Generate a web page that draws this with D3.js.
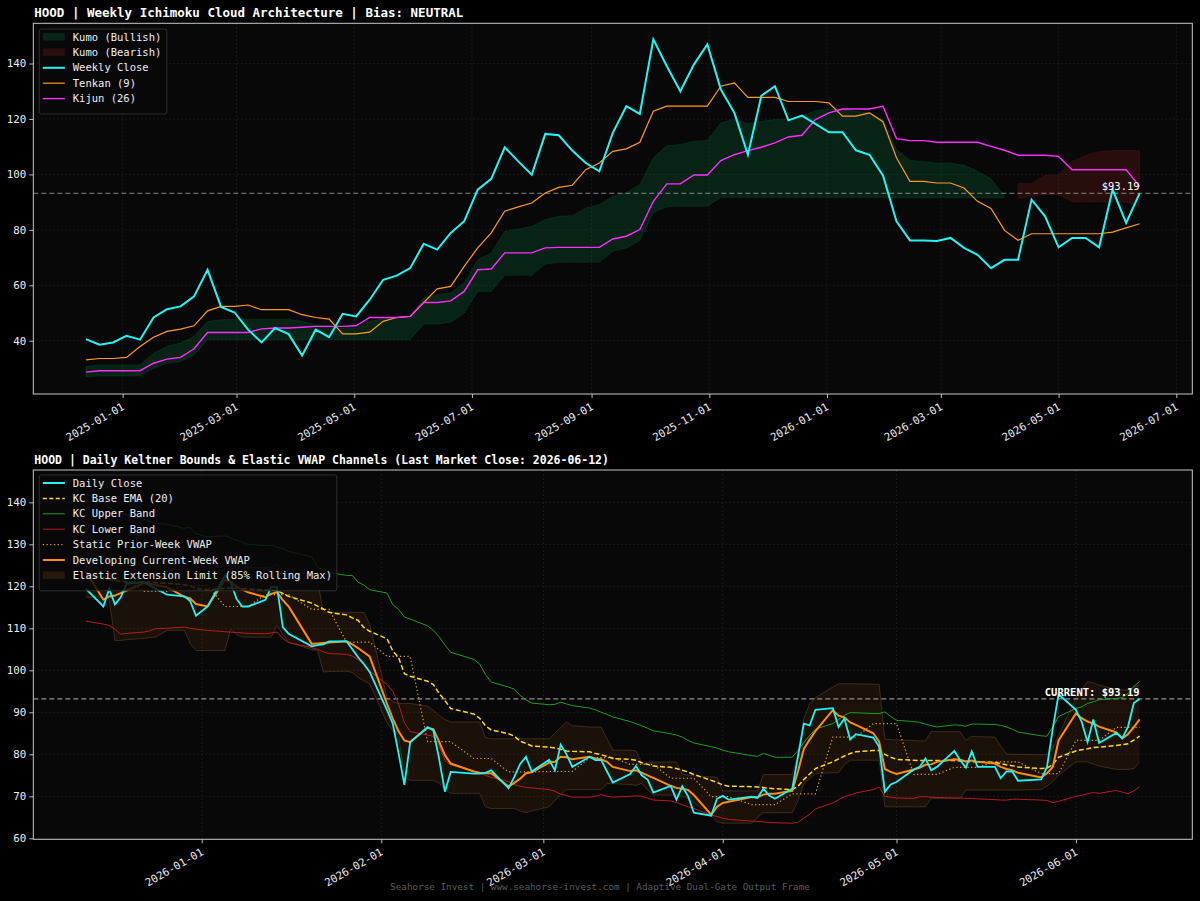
<!DOCTYPE html>
<html><head><meta charset="utf-8">
<script src="https://cdn.jsdelivr.net/npm/d3@7"></script>
<style>
html,body{margin:0;padding:0;background:#000;}
svg{display:block;}
text{font-family:"DejaVu Sans Mono",monospace;}
</style></head><body>
<svg id="chart" width="1200" height="901"></svg>
<script>
// ---------------- WEEKLY (Ichimoku) DATA ----------------
const weekStart = "2024-12-13";
const weeklyClose = [40.6,38.6,39.4,41.8,40.4,48.4,51.4,52.4,56.0,65.6,
52.2,50.2,44.0,39.4,44.6,42.4,34.7,44.0,41.3,49.7,
48.8,54.8,62.0,63.5,66.2,75.0,72.9,78.9,83.1,94.5,
98.4,109.8,104.7,99.9,114.6,114.1,108.6,104.1,101.1,115.0,
124.6,121.8,148.7,139.0,130.0,139.6,146.9,130.6,122.2,107.1,
128.4,131.8,119.5,121.2,118.2,115.2,115.2,108.7,107.1,99.6,
83.1,76.2,76.2,76.0,77.1,73.5,71.0,66.2,69.2,69.2,
90.9,84.9,73.7,77.1,77.1,73.7,94.5,82.5,93.19];
const tenkan = [33.1,33.6,33.6,34.0,37.9,41.3,43.4,44.2,45.4,50.8,
52.4,52.4,52.9,51.2,51.2,51.2,49.4,48.4,47.8,42.5,
42.5,43.1,47.0,48.4,48.8,53.8,58.7,59.6,66.8,73.5,
78.9,86.7,88.3,89.7,93.3,95.3,96.1,101.7,104.1,108.3,
109.2,111.6,122.8,124.6,124.6,124.6,124.6,131.8,133.0,127.8,
127.8,127.8,126.3,126.3,126.3,125.8,121.0,121.0,122.2,119.0,
106.0,97.5,97.5,96.9,96.9,95.1,90.3,87.7,79.8,76.2,
78.6,78.6,78.6,78.6,78.6,78.6,79.2,80.7,82.2];
const kijun = [28.7,29.2,29.2,29.2,29.2,31.9,33.4,34.0,37.1,43.0,
43.0,43.0,43.0,44.3,44.6,44.6,44.9,45.2,45.2,45.2,
45.4,48.4,48.4,48.4,48.8,53.8,53.8,54.4,57.8,65.6,
65.9,71.7,71.7,71.7,73.5,73.7,73.7,73.7,73.7,76.7,
77.7,80.1,90.3,96.6,96.6,99.8,99.8,105.0,107.1,108.6,
109.8,111.4,113.5,114.1,119.8,122.2,123.6,123.6,123.6,124.6,
112.9,112.2,112.2,111.6,111.6,111.6,111.6,110.1,108.7,106.9,
106.9,106.9,106.5,101.7,101.7,101.7,101.7,101.7,95.7];
const senkouA = [30.7,31.3,31.3,31.3,31.3,35.6,37.9,39.2,41.6,47.0,
47.6,47.8,47.8,47.8,47.8,47.8,47.0,45.8,45.4,44.4,
44.4,47.0,48.0,48.4,48.8,55.4,56.6,57.2,60.8,69.2,
71.7,79.5,80.3,81.3,83.7,84.9,85.1,87.9,89.1,92.1,
93.5,96.3,106.0,110.4,110.8,112.0,112.2,118.6,120.0,118.3,
119.2,119.8,119.8,121.0,123.0,123.6,123.6,122.8,122.2,119.8,
109.0,105.1,104.7,104.1,104.1,103.3,101.1,98.4,92.1,91.3,
92.1,92.7,92.7,90.1,90.1,90.1,90.1,90.0,88.3];
const senkouB = [27.0,27.3,27.3,27.3,27.3,30.1,31.9,32.5,34.9,40.4,
40.4,40.4,40.4,40.4,40.4,40.4,40.4,40.4,40.4,40.4,
40.4,40.4,40.4,40.4,40.4,46.0,46.0,46.7,50.0,57.8,
57.8,63.6,63.6,63.6,67.7,68.3,68.3,68.3,68.3,72.2,
73.5,76.2,86.3,88.3,88.5,88.5,88.5,91.7,91.7,91.7,
91.7,91.7,91.7,91.7,91.7,91.7,91.7,91.7,91.7,91.7,
91.6,91.6,91.6,91.6,91.6,91.6,91.6,91.6,91.6,96.7,
96.7,99.7,99.9,104.7,106.8,108.3,108.6,108.6,108.6];
const weeklyYTicks = [40,60,80,100,120,140];

// ---------------- DAILY (Keltner / VWAP) DATA ----------------
const dailyStart = "2025-12-12", dailyEnd = "2026-06-12";
const marketHolidays = ["2025-12-25","2026-01-01","2026-01-19","2026-02-16","2026-04-03","2026-05-25"];
const dailyClose = [119.4,
115.2,119.4,115.7,117.4,120.6, 121.0,120.2,119.5,118.0, 117.6,116.5,113.0,115.2,
122.5,121.0,117.0,115.2,115.2, 116.8,119.8,119.8,110.3,108.7, 105.7,106.0,106.2,106.9,
106.9,105.0,103.1,101.5,99.6, 90.5,87.3,80.2,72.7,82.9, 86.5,85.7,78.9,71.1,75.8,
75.4,75.4,75.6,76.2, 71.9,74.7,77.7,79.4,75.9, 78.7,76.2,82.3,80.0,77.0,
79.4,78.6,78.6,75.9,73.3, 75.3,77.2,75.0,74.0,70.9, 72.5,69.2,72.4,70.0,66.1,
65.4,69.4,70.1,69.2, 69.9,69.6,71.8,70.2,69.4, 71.8,79.6,87.3,86.9,90.6,
91.0,86.5,88.5,83.5,84.8, 84.0,81.8,71.1,72.8,73.4, 76.4,77.0,79.0,76.2,77.0,
80.8,78.6,76.8,80.7,77.0, 77.0,74.3,75.9,75.9,73.7, 74.0,77.0,86.1,94.3,
90.6,87.7,82.9,88.3,82.7, 85.1,83.8,86.6,92.2,93.19];
const kcBase = [122.5,
122.1,121.8,121.4,121.1,121.0, 121.0,121.0,120.9,120.7, 120.4,120.1,119.5,119.2,
119.5,119.6,119.6,119.5,119.4, 119.1,119.1,119.0,118.3,117.6, 116.0,115.3,114.6,113.8,
113.2,112.5,111.9,110.2,109.3, 107.5,104.6,103.0,99.2,98.6, 97.4,96.6,94.5,92.8,90.9,
89.6,88.6,86.8,85.8, 84.9,84.3,83.1,82.6,82.0, 81.7,81.5,81.2,80.8,80.7,
80.6,80.2,79.9,79.5,79.0, 78.8,78.6,78.0,77.6,77.2, 76.9,76.6,76.2,75.8,75.2,
73.8,73.3,72.7,72.4, 72.3,72.2,72.1,71.9,71.8, 71.6,72.4,74.0,75.3,76.6,
78.2,78.9,79.6,80.2,80.6, 80.9,80.9,80.0,79.3,78.8, 78.6,78.5,78.5,78.5,78.5,
78.5,78.4,78.3,78.2,78.2, 78.1,77.8,77.5,77.3,77.0, 76.6,76.7,77.6,79.3,
80.8,81.1,81.3,81.6,81.7, 82.1,82.3,82.5,83.4,84.3];
const kcUpper = [142.0,
140.0,138.8,138.0,137.5,137.0, 136.0,135.5,135.0,134.8, 133.8,134.0,132.5,131.8,
132.0,131.6,131.0,130.5,130.0, 129.7,129.8,129.3,129.0,128.3, 127.0,124.5,124.0,123.3,
122.6,122.6,121.0,120.3,119.2, 118.4,115.6,114.5,112.7,112.2, 110.6,109.5,108.0,106.0,104.3,
102.6,101.5,99.0,97.2, 96.0,95.5,94.0,93.0,92.2, 91.8,91.9,92.4,92.0,91.6,
91.0,90.6,90.0,89.5,88.9, 87.8,87.3,86.8,86.2,85.6, 84.9,84.6,84.1,83.3,82.7,
81.8,81.5,81.0,80.6, 79.7,79.5,80.2,79.8,79.3, 79.3,81.0,82.8,84.5,86.0,
87.3,88.3,89.3,89.9,89.9, 89.7,89.7,90.1,89.0,88.1, 87.8,87.6,87.2,86.8,86.5,
87.0,86.9,86.7,87.2,87.2, 87.1,86.9,86.5,86.0,85.3, 84.4,84.3,86.5,89.0,
90.9,91.3,92.1,92.5,93.0, 93.3,93.5,94.5,96.2,97.3];
const kcLower = [111.7,
111.0,110.7,109.8,108.6,108.8, 109.1,109.4,109.9,110.0, 110.3,110.0,109.8,109.5,
109.2,109.1,109.0,108.9,108.8, 108.7,108.9,109.1,107.6,106.6, 105.4,105.0,104.4,104.0,
103.8,103.4,102.6,101.3,99.8, 96.6,95.0,92.0,87.5,85.4, 84.6,84.3,82.0,78.5,77.5,
76.0,75.5,75.0,74.5, 73.5,72.8,72.4,72.1,72.0, 71.6,71.2,70.5,70.2,69.8,
69.8,70.0,70.4,70.0,69.8, 70.0,70.1,70.0,69.6,69.1, 68.9,68.5,68.0,67.5,67.1,
65.5,65.2,64.8,64.5, 64.1,64.0,63.9,63.8,63.7, 63.6,63.8,64.8,65.7,67.0,
68.4,69.2,69.9,70.3,70.8, 71.6,72.2,70.0,69.8,69.6, 69.5,69.9,69.9,69.8,69.7,
69.6,69.6,69.5,69.5,69.4, 69.2,69.1,69.1,69.3,69.3, 69.1,69.0,68.5,68.8,
70.0,70.2,70.6,70.9,70.7, 71.4,71.0,70.6,71.3,72.3];
const staticVwapWeekly = [125.0,121.5,118.8,120.2,115.2,118.0,114.5,106.7,103.3,83.0,79.0,75.8,75.9,79.2,77.6,74.3,69.9,68.0,70.6,84.1,87.3,75.2,76.9,78.2,75.4,83.3,86.4];
const devVwap = [123.5,
116.8,117.6,117.8,118.4,119.0, 120.8,120.6,120.3,119.8, 117.5,117.1,115.8,115.2,
121.5,121.0,120.0,119.2,118.6, 117.4,118.2,118.6,116.7,115.2, 106.3,106.4,106.5,106.6,
106.9,106.2,105.3,104.3,103.3, 92.0,88.5,85.5,83.3,82.9, 86.3,86.0,83.0,79.8,77.8,
75.9,75.6,75.5,75.5, 72.3,73.2,74.2,75.5,75.7, 78.0,78.2,79.4,79.3,78.8,
79.4,79.0,78.8,78.2,77.0, 76.0,76.2,75.6,75.0,74.4, 72.5,72.0,71.8,71.5,70.3,
65.6,67.5,68.4,68.7, 69.8,69.8,70.4,70.6,70.6, 71.3,76.0,81.3,83.5,85.5,
90.5,89.2,88.8,87.6,87.0, 85.0,83.0,76.5,75.8,75.3, 76.4,76.8,77.5,77.6,78.2,
78.8,78.7,78.3,78.5,78.2, 77.8,77.0,76.5,76.2,75.6, 74.5,75.5,77.0,83.3,
89.7,88.6,87.8,87.3,86.6, 85.2,83.8,84.8,86.5,88.3];
const elasticUpper = [127.7,
127.5,127.0,125.0,125.0,125.0, 125.0,125.0,125.0,126.0, 126.0,124.0,123.0,123.0,
124.0,126.0,125.0,124.5,124.5, 124.5,124.5,125.5,124.0,122.5, 121.5,121.3,113.8,113.8,
113.8,113.8,113.8,113.8,111.0, 93.5,92.5,92.1,92.1,92.1, 91.5,90.5,89.3,88.3,87.7,
87.7,87.7,84.0,83.7, 83.7,83.7,83.7,83.7,83.7, 83.7,85.0,86.4,87.7,86.8,
86.5,86.5,86.5,83.7,81.0, 81.0,80.8,78.0,78.0,78.1, 78.2,78.2,75.3,75.0,74.9,
74.6,74.5,71.3,71.3, 71.3,71.3,75.2,75.2,75.2, 75.2,80.0,88.5,92.0,93.5,
96.0,96.8,96.8,96.8,96.8, 96.7,96.7,83.6,83.5,83.4, 83.3,83.2,83.2,85.4,85.4,
85.4,85.4,83.3,84.3,84.2, 84.1,82.0,80.1,80.0,80.0, 79.9,80.0,81.5,84.5,
93.5,95.5,97.3,97.0,96.5, 95.5,95.3,95.3,96.0,96.5];
const elasticLower = [117.4,
117.4,117.0,107.1,107.1,107.3, 107.6,107.8,107.9,109.5, 109.5,106.3,104.7,104.7,
104.7,109.8,108.5,107.9,107.9, 107.9,107.9,110.7,108.5,106.7, 104.9,104.7,99.6,99.7,
99.8,99.5,98.3,97.5,96.8, 87.5,85.5,84.5,74.5,73.8, 73.8,73.8,73.2,71.5,70.7,
70.7,70.7,67.5,67.1, 67.1,67.1,66.5,66.1,66.5, 67.5,69.0,70.5,71.6,71.6,
71.6,71.6,71.6,73.0,73.0, 72.8,72.6,73.1,71.5,70.3, 70.3,70.3,70.0,69.5,68.5,
65.3,64.0,63.6,63.6, 63.6,65.0,66.1,66.1,66.1, 66.1,69.0,73.0,74.2,75.4,
75.6,75.6,77.5,78.6,78.6, 78.6,78.6,67.5,67.5,67.5, 67.5,67.5,67.5,69.5,69.5,
69.5,69.5,71.5,71.5,71.5, 71.5,71.5,71.5,71.5,71.5, 71.6,72.5,73.5,75.0,
78.2,78.2,78.2,77.7,77.2, 76.4,76.4,76.4,76.6,78.2];
const dailyYTicks = [60,70,80,90,100,110,120,130,140];
const currentPrice = 93.19;

// ---------------- BUILD ROWS ----------------
const parse = d3.utcParse("%Y-%m-%d");
const fmt = d3.utcFormat("%Y-%m-%d");
const weekDates = weeklyClose.map((_, i) => d3.utcDay.offset(parse(weekStart), 7 * i));
const weekly = weekDates.map((d, i) => ({date: d, close: weeklyClose[i], tenkan: tenkan[i], kijun: kijun[i], a: senkouA[i], b: senkouB[i]}));

const hol = new Set(marketHolidays);
const dayDates = d3.utcDay.range(parse(dailyStart), d3.utcDay.offset(parse(dailyEnd), 1))
  .filter(d => d.getUTCDay() !== 0 && d.getUTCDay() !== 6 && !hol.has(fmt(d)));
const weekKeys = [];
dayDates.forEach(d => { const k = +d3.utcMonday.floor(d); if (weekKeys[weekKeys.length - 1] !== k) weekKeys.push(k); });
const nD = Math.min(dayDates.length, dailyClose.length, kcBase.length, kcUpper.length, kcLower.length, devVwap.length, elasticUpper.length, elasticLower.length);
const daily = dayDates.slice(0, nD).map((d, i) => ({
  date: d, close: dailyClose[i], ema: kcBase[i], up: kcUpper[i], lo: kcLower[i],
  stat: staticVwapWeekly[weekKeys.indexOf(+d3.utcMonday.floor(d))], dev: devVwap[i],
  eu: elasticUpper[i], el: elasticLower[i]
}));

// ---------------- DRAW ----------------
const svg = d3.select("#chart");
svg.append("rect").attr("width", 1200).attr("height", 901).attr("fill", "#000");

function padExtent(dates) {
  const [a, b] = d3.extent(dates); const p = (b - a) * 0.05;
  return [new Date(+a - p), new Date(+b + p)];
}

function panel(box, xDomain, yDomain, yTicks, xTicks, title, titleSize) {
  const g = svg.append("g");
  const x = d3.scaleUtc().domain(xDomain).range([box.l, box.r]);
  const y = d3.scaleLinear().domain(yDomain).range([box.b, box.t]);
  g.append("rect").attr("x", box.l).attr("y", box.t).attr("width", box.r - box.l).attr("height", box.b - box.t).attr("fill", "#080808");
  const grid = g.append("g");
  xTicks.forEach(t => grid.append("line").attr("x1", x(t)).attr("x2", x(t)).attr("y1", box.t).attr("y2", box.b));
  yTicks.forEach(t => grid.append("line").attr("x1", box.l).attr("x2", box.r).attr("y1", y(t)).attr("y2", y(t)));
  grid.selectAll("line").attr("stroke", "#262626").attr("stroke-width", 0.6).attr("stroke-dasharray", "2,2");
  const ax = g.append("g").attr("transform", `translate(0,${box.b})`)
    .call(d3.axisBottom(x).tickValues(xTicks).tickFormat(fmt).tickSize(4).tickSizeOuter(0));
  ax.select(".domain").remove();
  ax.selectAll("line").attr("stroke", "#bbbbbb");
  ax.selectAll("text").attr("fill", "#ececec").style("font-size", "10.8px")
    .attr("y", 0).attr("dy", null).attr("x", 0)
    .attr("transform", "translate(-2,8) rotate(-30)").style("text-anchor", "end").attr("dominant-baseline", "hanging");
  const ay = g.append("g").attr("transform", `translate(${box.l},0)`)
    .call(d3.axisLeft(y).tickValues(yTicks).tickSize(4).tickSizeOuter(0));
  ay.select(".domain").remove();
  ay.selectAll("line").attr("stroke", "#bbbbbb");
  ay.selectAll("text").attr("fill", "#ececec").style("font-size", "10.8px");
  const content = g.append("g");
  g.append("rect").attr("x", box.l).attr("y", box.t).attr("width", box.r - box.l).attr("height", box.b - box.t)
    .attr("fill", "none").attr("stroke", "#c8c8c8").attr("stroke-width", 1);
  g.append("text").attr("x", box.l + 1).attr("y", box.t - 6).attr("fill", "#ffffff")
    .style("font-size", titleSize).style("font-weight", "bold").text(title);
  return {x, y, content, g};
}

function legend(entries, x0, y0, w, rowH) {
  const lg = svg.append("g");
  const h = entries.length * rowH + 8;
  lg.append("rect").attr("x", x0).attr("y", y0).attr("width", w).attr("height", h).attr("rx", 2)
    .attr("fill", "rgba(8,8,8,0.82)").attr("stroke", "#383838").attr("stroke-width", 0.8);
  entries.forEach((e, i) => {
    const cy = y0 + 8 + rowH * i;
    if (e.patch) {
      lg.append("rect").attr("x", x0 + 3.5).attr("y", cy - 4).attr("width", 22).attr("height", 7.5)
        .attr("fill", e.patch).attr("stroke", e.edge || "none").attr("stroke-width", 0.6);
    } else {
      lg.append("line").attr("x1", x0 + 3.5).attr("x2", x0 + 25.5).attr("y1", cy).attr("y2", cy)
        .attr("stroke", e.color).attr("stroke-width", e.w).attr("stroke-dasharray", e.dash || null);
    }
    lg.append("text").attr("x", x0 + 33.5).attr("y", cy).attr("dy", "0.35em").attr("fill", "#eeeeee")
      .style("font-size", "10.5px").text(e.label);
  });
}

// ---- TOP: Weekly Ichimoku ----
const T = {l: 33.3, r: 1192.3, t: 23.3, b: 394};
const topXTicks = d3.utcMonth.every(2).range(...padExtent(weekDates));
const topPanel = panel(T, padExtent(weekDates), [20.8, 154.5], weeklyYTicks, topXTicks,
  "HOOD | Weekly Ichimoku Cloud Architecture | Bias: NEUTRAL", "12.5px");
{
  const {x, y, content} = topPanel;
  const bull = d3.area().defined(d => d.a >= d.b).x(d => x(d.date)).y0(d => y(d.b)).y1(d => y(d.a));
  const bear = d3.area().defined(d => d.a < d.b).x(d => x(d.date)).y0(d => y(d.a)).y1(d => y(d.b));
  content.append("path").datum(weekly).attr("d", bull).attr("fill", "rgba(0,230,120,0.12)")
    .attr("stroke", "rgba(0,230,120,0.10)").attr("stroke-width", 1);
  content.append("path").datum(weekly).attr("d", bear).attr("fill", "rgba(230,50,50,0.15)")
    .attr("stroke", "rgba(230,50,50,0.12)").attr("stroke-width", 1);
  const ln = key => d3.line().x(d => x(d.date)).y(d => y(d[key]));
  content.append("line").attr("x1", T.l).attr("x2", T.r).attr("y1", y(currentPrice)).attr("y2", y(currentPrice))
    .attr("stroke", "#b0b0b0").attr("stroke-width", 1).attr("stroke-dasharray", "5,3").attr("opacity", 0.75);
  content.append("path").datum(weekly).attr("d", ln("tenkan")).attr("fill", "none").attr("stroke", "#ff9a1f").attr("stroke-width", 1.2);
  content.append("path").datum(weekly).attr("d", ln("kijun")).attr("fill", "none").attr("stroke", "#ff2cff").attr("stroke-width", 1.4);
  content.append("path").datum(weekly).attr("d", ln("close")).attr("fill", "none").attr("stroke", "#1ff5f5").attr("stroke-width", 2);
  const last = weekly[weekly.length - 1];
  content.append("text").attr("x", x(last.date)).attr("y", y(currentPrice) - 3).attr("text-anchor", "end")
    .attr("fill", "#ffffff").style("font-size", "10.5px").text("$" + currentPrice.toFixed(2));
}
legend([
  {label: "Kumo (Bullish)", patch: "rgba(0,230,120,0.14)"},
  {label: "Kumo (Bearish)", patch: "rgba(230,50,50,0.17)"},
  {label: "Weekly Close", color: "#1ff5f5", w: 2},
  {label: "Tenkan (9)", color: "#ff9a1f", w: 1.2},
  {label: "Kijun (26)", color: "#ff2cff", w: 1.4}
], 39.3, 29, 127.5, 15.4);

// ---- BOTTOM: Daily Keltner / VWAP ----
const Bx = {l: 33.3, r: 1192.3, t: 470, b: 839.3};
const botXTicks = d3.utcMonth.every(1).range(...padExtent(daily.map(d => d.date)));
const botPanel = panel(Bx, padExtent(daily.map(d => d.date)), [59.76, 147.7], dailyYTicks, botXTicks,
  "HOOD | Daily Keltner Bounds & Elastic VWAP Channels (Last Market Close: 2026-06-12)", "11.5px");
{
  const {x, y, content} = botPanel;
  const ln = key => d3.line().x(d => x(d.date)).y(d => y(d[key]));
  const band = d3.area().x(d => x(d.date)).y0(d => y(d.el)).y1(d => y(d.eu));
  content.append("path").datum(daily).attr("d", band).attr("fill", "rgba(255,140,30,0.075)");
  ["eu", "el"].forEach(k => content.append("path").datum(daily).attr("d", ln(k)).attr("fill", "none")
    .attr("stroke", "#7a5230").attr("stroke-width", 0.8).attr("opacity", 0.55));
  content.append("line").attr("x1", Bx.l).attr("x2", Bx.r).attr("y1", y(currentPrice)).attr("y2", y(currentPrice))
    .attr("stroke", "#b0b0b0").attr("stroke-width", 1.1).attr("stroke-dasharray", "5,3").attr("opacity", 0.8);
  content.append("path").datum(daily).attr("d", ln("up")).attr("fill", "none").attr("stroke", "#1c9e1c").attr("stroke-width", 1);
  content.append("path").datum(daily).attr("d", ln("lo")).attr("fill", "none").attr("stroke", "#b81c1c").attr("stroke-width", 1);
  content.append("path").datum(daily).attr("d", ln("stat")).attr("fill", "none").attr("stroke", "#d9a03c").attr("stroke-width", 1.2).attr("stroke-dasharray", "1.3,2.4");
  content.append("path").datum(daily).attr("d", ln("ema")).attr("fill", "none").attr("stroke", "#ffd91a").attr("stroke-width", 1.5).attr("stroke-dasharray", "5,2.5");
  content.append("path").datum(daily).attr("d", ln("dev")).attr("fill", "none").attr("stroke", "#ff8c10").attr("stroke-width", 2);
  content.append("path").datum(daily).attr("d", ln("close")).attr("fill", "none").attr("stroke", "#1ff5f5").attr("stroke-width", 1.8);
  const last = daily[daily.length - 1];
  content.append("text").attr("x", x(last.date)).attr("y", y(currentPrice) - 3).attr("text-anchor", "end")
    .attr("fill", "#ffffff").style("font-size", "10.5px").style("font-weight", "bold").text("CURRENT: $" + currentPrice.toFixed(2));
}
legend([
  {label: "Daily Close", color: "#1ff5f5", w: 2},
  {label: "KC Base EMA (20)", color: "#ffd91a", w: 1.5, dash: "4,2.5"},
  {label: "KC Upper Band", color: "#1c9e1c", w: 1},
  {label: "KC Lower Band", color: "#b81c1c", w: 1},
  {label: "Static Prior-Week VWAP", color: "#d9a03c", w: 1.2, dash: "1.3,2.4"},
  {label: "Developing Current-Week VWAP", color: "#ff8c10", w: 2},
  {label: "Elastic Extension Limit (85% Rolling Max)", patch: "rgba(255,140,30,0.12)"}
], 39.3, 475, 297.5, 15.4);

svg.append("text").attr("x", 600).attr("y", 890).attr("text-anchor", "middle").attr("fill", "#5a5a5a")
  .style("font-size", "9.3px").text("Seahorse Invest | www.seahorse-invest.com | Adaptive Dual-Gate Output Frame");
</script>
</body></html>
